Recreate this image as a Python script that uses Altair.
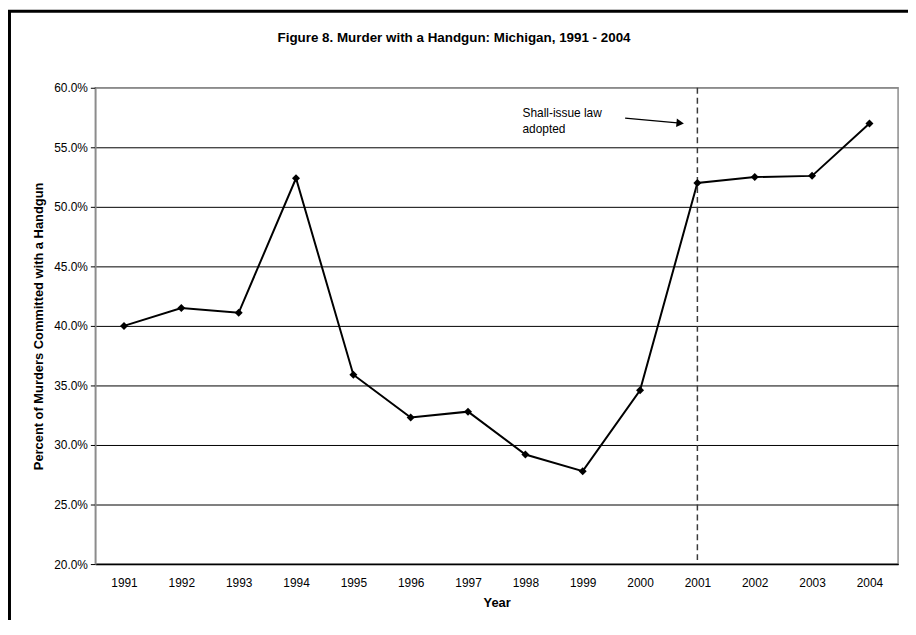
import altair as alt
import pandas as pd

years = list(range(1991, 2005))
pct = [40.0, 41.5, 41.1, 52.4, 35.9, 32.3, 32.8, 29.2, 27.8, 34.6, 52.0, 52.5, 52.6, 57.0]
law_year = [2001]
title_text = "Figure 8. Murder with a Handgun: Michigan, 1991 - 2004"
note_text = ["Shall-issue law", "adopted"]
note_pos = [1997.95, 57.85]
arrow_from = [1999.74, 57.45]
arrow_to = [2000.7, 57.03]
y_ticks = [20, 25, 30, 35, 40, 45, 50, 55, 60]

df = pd.DataFrame({"year": years, "pct": pct})

W, H = 809, 480
FONT = "Liberation Sans"

xscale = alt.Scale(domain=[1990.5, 2004.5], nice=False, zero=False)
yscale = alt.Scale(domain=[20, 60], nice=False, zero=False)

x_axis = alt.Axis(
    title="Year", values=years, format="d", ticks=False, grid=False,
    labelPadding=14, titlePadding=8, domainColor="black", domainWidth=1.5,
)
y_axis = alt.Axis(
    title="Percent of Murders Committed with a Handgun", values=y_ticks,
    labelExpr="format(datum.value / 100, '.1%')",
    tickSize=5, tickColor="black", labelPadding=3, titlePadding=8,
    domainColor="#8c8c8c", domainWidth=1.5,
    gridColor={"condition": {"test": "datum.value == 60", "value": "#8c8c8c"}, "value": "black"},
)

frame = alt.Chart(alt.Data(values=[{}])).mark_rect(
    filled=False, stroke="black", strokeWidth=3
).encode(
    x=alt.value(-86.5), x2=alt.value(W + 40), y=alt.value(-77), y2=alt.value(H + 80)
)

title = alt.Chart(pd.DataFrame({"t": [title_text]})).mark_text(
    align="center", baseline="middle", fontSize=13.5, fontWeight="bold", font=FONT, color="black"
).encode(x=alt.value(W / 2 - 43), y=alt.value(-50), text="t:N")

line = alt.Chart(df).mark_line(color="black", strokeWidth=2).encode(
    x=alt.X("year:Q", scale=xscale, axis=x_axis),
    y=alt.Y("pct:Q", scale=yscale, axis=y_axis),
)
pts = alt.Chart(df).mark_point(
    shape="diamond", filled=True, color="black", size=65, opacity=1
).encode(x="year:Q", y="pct:Q")

law = alt.Chart(pd.DataFrame({"year": law_year})).mark_rule(
    color="#3a3a3a", strokeWidth=1.5, strokeDash=[6, 4]
).encode(x="year:Q")

note = alt.Chart(pd.DataFrame({"x": [note_pos[0]], "y": [note_pos[1]], "t": [note_text]})).mark_text(
    align="left", baseline="middle", fontSize=12, font=FONT, color="black", lineHeight=16
).encode(x="x:Q", y="y:Q", text="t")

arrow_df = pd.DataFrame({"x": [arrow_from[0]], "y": [arrow_from[1]],
                         "x2": [arrow_to[0]], "y2": [arrow_to[1]]})
arrow = alt.Chart(arrow_df).mark_rule(color="black", strokeWidth=1.5).encode(
    x="x:Q", y="y:Q", x2="x2:Q", y2="y2:Q"
)
head = alt.Chart(pd.DataFrame({"x": [arrow_to[0]], "y": [arrow_to[1]]})).mark_point(
    shape="triangle-right", filled=True, color="black", size=75, angle=5, opacity=1
).encode(x="x:Q", y="y:Q")

chart = alt.layer(frame, title, line, law, pts, note, arrow, head).properties(
    width=W, height=H,
    autosize=alt.AutoSizeParams(type="none"),
    padding={"left": 88, "top": 78, "right": 10, "bottom": 54},
).configure_view(
    stroke="#8c8c8c", strokeWidth=1.5
).configure_axis(
    labelFont=FONT, titleFont=FONT, labelFontSize=12, titleFontSize=13,
    titleFontWeight="bold", labelColor="black", titleColor="black", gridWidth=1,
)

chart.save("out.html", embed_options={"renderer": "svg", "actions": False})
